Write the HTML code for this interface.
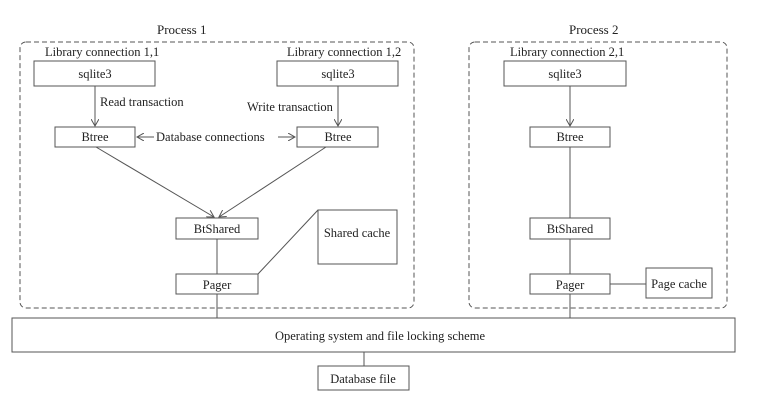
<!DOCTYPE html>
<html><head><style>body{margin:0;background:#fff}</style></head><body>
<svg width="762" height="408" xmlns="http://www.w3.org/2000/svg" font-family="Liberation Serif, serif" font-size="12.5" fill="none" stroke="#555" stroke-width="1">
<defs><marker id="a" markerWidth="8" markerHeight="8" refX="7" refY="4" orient="auto"><path d="M0,0 L7,4 L0,8" stroke="#555" fill="none"/></marker></defs>
<rect x="20" y="42" width="394" height="266" rx="6" stroke-dasharray="5,3"/>
<rect x="469" y="42" width="258" height="266" rx="6" stroke-dasharray="5,3"/>
<g fill="#222" stroke="none">
<text x="157" y="34" font-size="13">Process 1</text>
<text x="569" y="34" font-size="13">Process 2</text>
<text x="45" y="56">Library connection 1,1</text>
<text x="287" y="56">Library connection 1,2</text>
<text x="510" y="56">Library connection 2,1</text>
<text x="100" y="106">Read transaction</text>
<text x="247" y="111">Write transaction</text>
<text x="156" y="141">Database connections</text>
</g>
<rect x="34" y="61" width="121" height="25"/><rect x="277" y="61" width="121" height="25"/><rect x="504" y="61" width="122" height="25"/>
<rect x="55" y="127" width="80" height="20"/><rect x="297" y="127" width="81" height="20"/><rect x="530" y="127" width="80" height="20"/>
<rect x="176" y="218" width="82" height="21"/><rect x="530" y="218" width="80" height="21"/>
<rect x="176" y="274" width="82" height="20"/><rect x="530" y="274" width="80" height="20"/>
<rect x="318" y="210" width="79" height="54"/><rect x="646" y="268" width="66" height="30"/>
<rect x="12" y="318" width="723" height="34"/><rect x="318" y="366" width="91" height="24"/>
<g fill="#222" stroke="none" text-anchor="middle">
<text x="95" y="78">sqlite3</text><text x="338" y="78">sqlite3</text><text x="565" y="78">sqlite3</text>
<text x="95" y="141">Btree</text><text x="338" y="141">Btree</text><text x="570" y="141">Btree</text>
<text x="217" y="233">BtShared</text><text x="570" y="233">BtShared</text>
<text x="217" y="289">Pager</text><text x="570" y="289">Pager</text>
<text x="357" y="237">Shared cache</text><text x="679" y="288">Page cache</text>
<text x="380" y="340">Operating system and file locking scheme</text>
<text x="363" y="383">Database file</text>
</g>
<line x1="95" y1="86" x2="95" y2="126" marker-end="url(#a)"/>
<line x1="338" y1="86" x2="338" y2="126" marker-end="url(#a)"/>
<line x1="570" y1="86" x2="570" y2="126" marker-end="url(#a)"/>
<line x1="154" y1="137" x2="137" y2="137" marker-end="url(#a)"/>
<line x1="278" y1="137" x2="295" y2="137" marker-end="url(#a)"/>
<line x1="96" y1="147" x2="214" y2="217" marker-end="url(#a)"/>
<line x1="326" y1="147" x2="219" y2="217" marker-end="url(#a)"/>
<line x1="570" y1="147" x2="570" y2="218"/>
<line x1="217" y1="239" x2="217" y2="274"/><line x1="570" y1="239" x2="570" y2="274"/>
<line x1="258" y1="274" x2="318" y2="210"/><line x1="610" y1="284" x2="646" y2="284"/>
<line x1="217" y1="294" x2="217" y2="318"/><line x1="570" y1="294" x2="570" y2="318"/>
<line x1="364" y1="352" x2="364" y2="366"/>
</svg>
</body></html>
